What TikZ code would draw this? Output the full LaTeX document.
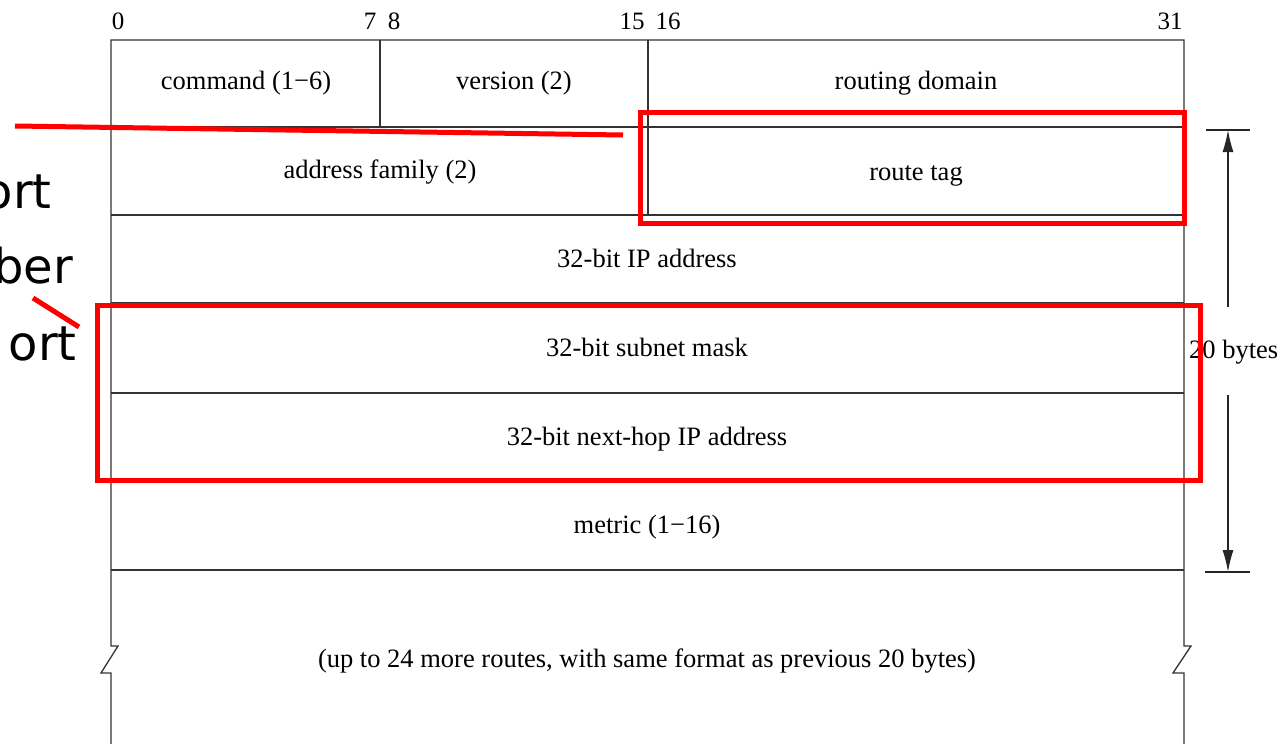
\documentclass[tikz,border=0pt]{standalone}
\usepackage{fontspec}
\setmainfont{Liberation Serif}
\newfontfamily\labelfont{DejaVu Sans}
\usetikzlibrary{arrows.meta}
\begin{document}
\begin{tikzpicture}[x=1pt,y=-1pt,
  rule/.style={draw=black!80,line width=1.3pt},
  field/.style={font=\fontsize{26.5}{30}\selectfont,inner sep=0pt,anchor=base},
  bitnum/.style={font=\fontsize{25}{28}\selectfont,inner sep=0pt,anchor=base},
  mark red/.style={draw=red,line width=5pt},
  side text/.style={font=\labelfont\fontsize{48}{56}\selectfont,inner sep=0pt,anchor=base east},
  dim/.style={draw=black!85,line width=1.3pt},
  tip/.style={-{Latex[length=22pt,width=11pt]}}]
\useasboundingbox (0,0) rectangle (1277,744);

% bit positions along the top
\node[bitnum] (b0)  at (118,29) {0};
\node[bitnum] (b7)  at (370,29) {7};
\node[bitnum] (b8)  at (394,29) {8};
\node[bitnum] (b15) at (632,29) {15};
\node[bitnum] (b16) at (668,29) {16};
\node[bitnum] (b31) at (1170,29) {31};

% table outline and row rules
\coordinate (tl) at (111,40);
\coordinate (tr) at (1184,40);
\draw[rule] (111,744) -- (111,673) -- (101,673) -- (118,646) -- (111,646)
  -- (tl) -- (tr) -- (1184,646) -- (1191,646) -- (1173,673) -- (1184,673) -- (1184,744);
\foreach \y in {127,215,303,393,481,570}
  \draw[rule] (111,\y) -- (1184,\y);
\draw[rule] (380,40) -- (380,127);
\draw[rule] (648,40) -- (648,215);

% field names (placed on their baselines)
\node[field] (cmd)  at (246,89)  {command (1−6)};
\node[field] (ver)  at (514,89)  {version (2)};
\node[field] (dom)  at (916,89)  {routing domain};
\node[field] (fam)  at (380,178) {address family (2)};
\node[field] (tag)  at (916,180) {route tag};
\node[field] (ip)   at (647,267) {32-bit IP address};
\node[field] (mask) at (647,356) {32-bit subnet mask};
\node[field] (hop)  at (647,445) {32-bit next-hop IP address};
\node[field] (met)  at (647,533) {metric (1−16)};
\node[field] (more) at (647,667) {(up to 24 more routes, with same format as previous 20 bytes)};

% 20-byte dimension
\coordinate (dt) at (1228,130);
\coordinate (db) at (1228,572);
\draw[dim] (1206,130) -- (1250,130);
\draw[dim] (1205,572) -- (1250,572);
\node[field,anchor=base west] (len) at (1189,358) {20 bytes};
\draw[dim,tip] (1228,307) -- (dt);
\draw[dim,tip] (1228,395) -- (db);

% side labels
\node[side text] (s1) at (52,208) {ort};
\node[side text] (s2) at (73,283) {ber};
\node[side text] (s3) at (77,360) {ort};

% highlights
\coordinate (p1) at (15,126);
\coordinate (p2) at (623,135);
\coordinate (q1) at (33,298);
\coordinate (q2) at (79,327);
\draw[mark red] (640,112) rectangle (1184,223);
\draw[mark red] (97,305) rectangle (1200,480);
\draw[mark red] (p1) -- (p2);
\draw[mark red] (q1) -- (q2);
\end{tikzpicture}
\end{document}
